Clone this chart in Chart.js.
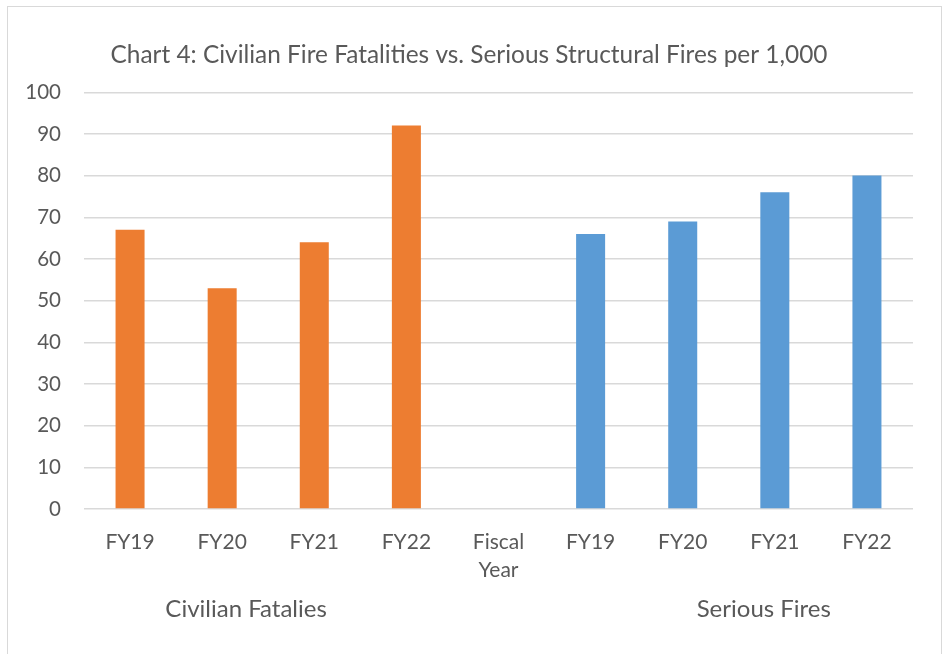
<!DOCTYPE html>
<html>
<head>
<meta charset="utf-8">
<script src="https://cdn.jsdelivr.net/npm/chart.js@4.4.1/dist/chart.umd.min.js"></script>
<style>
  html, body { margin: 0; padding: 0; background: #fff; }
  #frame {
    position: absolute; left: 7px; top: 6px; width: 935px; height: 660px;
    box-sizing: border-box; border: 1px solid #d9d9d9; background: #fff;
  }
  #wrap { position: relative; width: 933px; height: 647px; }
</style>
</head>
<body>
<div id="frame"><div id="wrap"><canvas id="chart"></canvas></div></div>
<script>
const categories = ['FY19', 'FY20', 'FY21', 'FY22', ['Fiscal', 'Year'], 'FY19', 'FY20', 'FY21', 'FY22']
const fatalities = [67, 53, 64, 92, null, null, null, null, null]
const seriousFires = [null, null, null, null, null, 66, 69, 76, 80]
const groupNames = ['Civilian Fatalies', 'Serious Fires']
const yTicks = [0, 10, 20, 30, 40, 50, 60, 70, 80, 90, 100]

const FONT = 'Lato'
const TEXT = '#595959'

// second row of axis labels, under the year labels
const groupLabels = {
  id: 'groupLabels',
  afterDraw(chart) {
    const { ctx, scales: { x } } = chart
    // centre of each group, in category units (as Excel placed them)
    const at = [1.26, 6.88]
    ctx.save()
    ctx.font = `24px ${FONT}`
    ctx.fillStyle = TEXT
    ctx.textAlign = 'center'
    ctx.textBaseline = 'middle'
    groupNames.forEach((name, i) => {
      ctx.fillText(name, x.getPixelForValue(at[i]), x.bottom - 45)
    })
    ctx.restore()
  },
}

new Chart('chart', {
  type: 'bar',
  data: {
    labels: categories,
    datasets: [
      {
        label: 'Civilian Fatalies',
        data: fatalities,
        backgroundColor: '#ED7D31',
      },
      {
        label: 'Serious Fires',
        data: seriousFires,
        backgroundColor: '#5B9BD5',
      },
    ],
  },
  options: {
    responsive: true,
    maintainAspectRatio: false,
    animation: false,
    categoryPercentage: 1,
    barPercentage: 0.315,
    layout: { padding: { left: 0, right: 11, top: 0, bottom: 0 } },
    plugins: {
      legend: { display: false },
      tooltip: { enabled: false },
      title: {
        display: true,
        text: 'Chart 4: Civilian Fire Fatalities vs. Serious Structural Fires per 1,000',
        color: TEXT,
        font: { family: FONT, size: 24.4, weight: 'normal' },
        padding: { top: 34, bottom: 22 },
      },
    },
    scales: {
      x: {
        stacked: true,
        grid: { display: false },
        border: { display: false },
        ticks: {
          color: TEXT,
          font: { family: FONT, size: 21, lineHeight: 1.35 },
          padding: 11,
          maxRotation: 0,
          autoSkip: false,
        },
        afterFit: (scale) => { scale.height = 145 },
      },
      y: {
        min: 0,
        max: 100,
        grid: { color: '#d9d9d9', lineWidth: 1.5, drawTicks: false },
        border: { display: false },
        afterBuildTicks: (scale) => { scale.ticks = yTicks.map((v) => ({ value: v })) },
        ticks: {
          color: TEXT,
          font: { family: FONT, size: 20.5 },
          padding: 23,
        },
        afterFit: (scale) => { scale.width = 76 },
      },
      // empty right-hand strip so the plot stops short of the frame
      yRight: {
        position: 'right',
        min: 0,
        max: 100,
        grid: { display: false, drawTicks: false },
        border: { display: false },
        ticks: { display: false },
        afterFit: (scale) => { scale.width = 17 },
      },
    },
  },
  plugins: [groupLabels],
})
</script>
</body>
</html>
